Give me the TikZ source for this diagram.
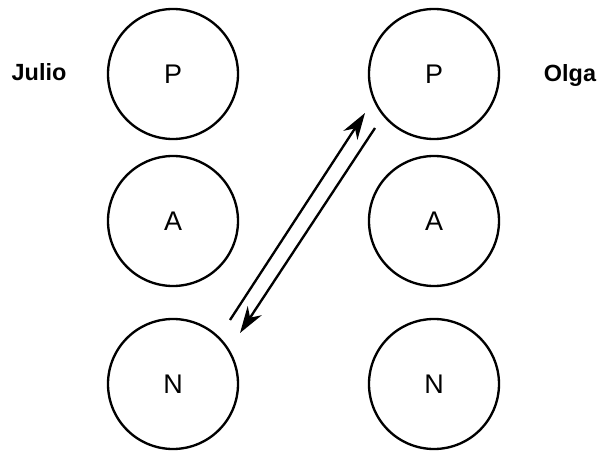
\documentclass[tikz,border=0pt]{standalone}
\usepackage{fontspec}
\setmainfont{Liberation Sans}
\usetikzlibrary{arrows.meta, calc}

\begin{document}
\begin{tikzpicture}[
    state/.style={circle, draw=black, line width=2pt, minimum size=3.9cm, inner sep=0pt, font=\fontsize{23}{25}\selectfont},
    person/.style={font=\fontsize{20}{22}\selectfont\bfseries, inner sep=0pt},
    arr/.style={-{Stealth[length=8mm, width=5mm, inset=2.5mm]}, line width=2pt},
  ]
    \useasboundingbox (0,0) rectangle (17.97,13.53);
    % Julio
    \node[person] (julio) at (1.17, 11.37) {Julio};
    \node[state] (jp) at (5.19, 11.31) {P};
    \node[state] (ja) at (5.19, 6.90) {A};
    \node[state] (jn) at (5.19, 2.01) {N};
    % Olga
    \node[person] (olga) at (17.1, 11.28) {Olga};
    \node[state] (op) at (13.02, 11.31) {P};
    \node[state] (oa) at (13.02, 6.90) {A};
    \node[state] (on) at (13.02, 2.01) {N};
    \draw[arr] ([shift={(1.71,1.92)}]jn.center) -- ([shift={(-2.07,-1.17)}]op.center);
    \draw[arr] ([shift={(-1.77,-1.62)}]op.center) -- ([shift={(2.01,1.53)}]jn.center);
  \end{tikzpicture}
\end{document}
